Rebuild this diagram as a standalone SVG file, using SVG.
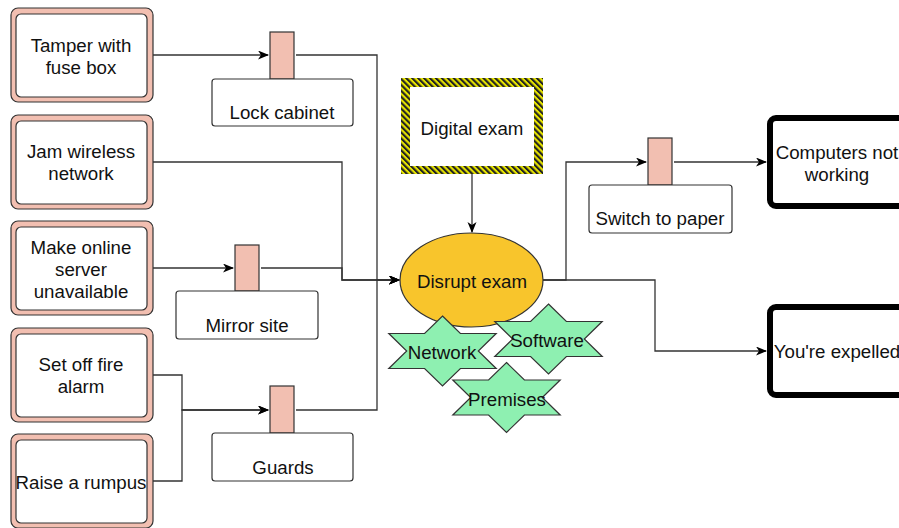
<svg xmlns="http://www.w3.org/2000/svg" width="899" height="528" viewBox="0 0 899 528">
<style>
text{font-family:"Liberation Sans",Arial,sans-serif;font-size:18.7px;fill:#111;text-anchor:middle;dominant-baseline:central}
.outer{fill:#f2bfb1;stroke:#333;stroke-width:1.2}
.inner{fill:#fff;stroke:#333;stroke-width:1.2}
.tab{fill:#f2bfb1;stroke:#333;stroke-width:1.2}
.lbl{fill:#fff;stroke:#333;stroke-width:1.2}
.end{fill:#fff;stroke:#000;stroke-width:6}
.star{fill:#8ef0b1;stroke:#333;stroke-width:1.2}
.edge{fill:none;stroke:#333;stroke-width:1.3}
.arr{marker-end:url(#ah)}
</style>
<defs>
<marker id="ah" markerUnits="userSpaceOnUse" markerWidth="12" markerHeight="10" refX="10" refY="4.5" orient="auto">
<path d="M0,0 L11,4.5 L0,9 L3,4.5 z" fill="#000"/>
</marker>
<pattern id="hatch" width="4.2" height="4.2" patternUnits="userSpaceOnUse" patternTransform="rotate(-45)">
<rect width="4.2" height="4.2" fill="#e8e600"/>
<rect width="2.1" height="4.2" fill="#222"/>
</pattern>
<path id="star" d="M0,-35 L17.9,-17.5 L53.7,-17.5 L35.8,0 L53.7,17.5 L17.9,17.5 L0,35 L-17.9,17.5 L-53.7,17.5 L-35.8,0 L-53.7,-17.5 L-17.9,-17.5 Z"/>
</defs>

<g id="connectors">
<path class="edge arr" d="M153,55 H268"/>
<path class="edge arr" d="M296,55 H377 V280 H399"/>
<path class="edge arr" d="M296,410 H377 V280 H399"/>
<path class="edge arr" d="M153,162 H342 V280 H399"/>
<path class="edge arr" d="M153,268 H233"/>
<path class="edge arr" d="M261,268 H342 V280 H399"/>
<path class="edge arr" d="M153,375 H182 V410 H268"/>
<path class="edge arr" d="M153,481 H182 V410 H268"/>
<path class="edge arr" d="M472,174 V232"/>
<path class="edge arr" d="M543,280 H566 V162 H646"/>
<path class="edge arr" d="M674,162 H766"/>
<path class="edge arr" d="M543,280 H655 V351 H766"/>
</g>

<g id="n-tamper">
<rect class="outer" x="11" y="8" width="142" height="94" rx="7"/>
<rect class="inner" x="16" y="14" width="131" height="83" rx="5"/>
<text x="81" y="45">Tamper with</text>
<text x="81" y="67">fuse box</text>
</g>
<g id="n-jam">
<rect class="outer" x="11" y="115" width="142" height="94" rx="7"/>
<rect class="inner" x="16" y="121" width="131" height="83" rx="5"/>
<text x="81" y="151">Jam wireless</text>
<text x="81" y="173">network</text>
</g>
<g id="n-server">
<rect class="outer" x="11" y="221" width="142" height="94" rx="7"/>
<rect class="inner" x="16" y="227" width="131" height="83" rx="5"/>
<text x="81" y="247">Make online</text>
<text x="81" y="269">server</text>
<text x="81" y="291">unavailable</text>
</g>
<g id="n-fire">
<rect class="outer" x="11" y="328" width="142" height="94" rx="7"/>
<rect class="inner" x="16" y="334" width="131" height="83" rx="5"/>
<text x="81" y="364">Set off fire</text>
<text x="81" y="386">alarm</text>
</g>
<g id="n-rumpus">
<rect class="outer" x="11" y="434" width="142" height="94" rx="7"/>
<rect class="inner" x="16" y="440" width="131" height="83" rx="5"/>
<text x="81" y="482">Raise a rumpus</text>
</g>

<g id="n-lock">
<rect class="tab" x="270" y="32" width="24" height="47"/>
<rect class="lbl" x="212" y="79" width="141" height="47" rx="3"/>
<text x="282" y="112">Lock cabinet</text>
</g>
<g id="n-mirror">
<rect class="tab" x="235" y="245" width="24" height="46"/>
<rect class="lbl" x="176" y="291" width="142" height="48" rx="3"/>
<text x="247" y="325">Mirror site</text>
</g>
<g id="n-guards">
<rect class="tab" x="270" y="386" width="24" height="47"/>
<rect class="lbl" x="212" y="433" width="141" height="48" rx="3"/>
<text x="283" y="467">Guards</text>
</g>

<g id="n-digital">
<rect x="401" y="78" width="142" height="96" fill="url(#hatch)"/>
<rect x="410" y="87" width="124" height="79" fill="#fff"/>
<text x="472" y="128">Digital exam</text>
</g>

<g id="n-disrupt">
<ellipse cx="471.5" cy="280" rx="71.5" ry="47" fill="#f8c52c" stroke="#333" stroke-width="1.2"/>
<text x="472" y="281">Disrupt exam</text>
</g>

<g id="n-network">
<use href="#star" class="star" transform="translate(442.5,351)"/>
<text x="442" y="352">Network</text>
</g>
<g id="n-software">
<use href="#star" class="star" transform="translate(548.5,339)"/>
<text x="547" y="340">Software</text>
</g>
<g id="n-premises">
<use href="#star" class="star" transform="translate(506.5,397.5)"/>
<text x="507" y="399">Premises</text>
</g>

<g id="n-switch">
<rect class="tab" x="648" y="138" width="24" height="47"/>
<rect class="lbl" x="589" y="185" width="143" height="48" rx="3"/>
<text x="660" y="218">Switch to paper</text>
</g>

<g id="n-computers">
<rect class="end" x="770" y="118" width="134" height="88" rx="6"/>
<text x="837" y="152">Computers not</text>
<text x="837" y="174">working</text>
</g>
<g id="n-expelled">
<rect class="end" x="770" y="307" width="134" height="88" rx="6"/>
<text x="837" y="351">You're expelled</text>
</g>
</svg>
